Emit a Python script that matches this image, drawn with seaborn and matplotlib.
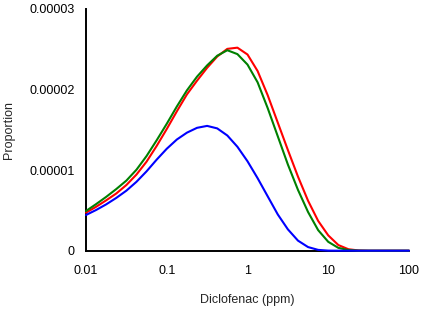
import matplotlib
matplotlib.use("Agg")
import matplotlib.pyplot as plt
import matplotlib.ticker as mticker
import pandas as pd
import seaborn as sns

# diclofenac concentration (ppm), shared by all three curves
conc = [0.01, 0.01334, 0.01778, 0.02371, 0.03162, 0.04217, 0.05623, 0.07499,
        0.1, 0.1334, 0.1778, 0.2371, 0.3162, 0.4217, 0.5623, 0.7499,
        1.0, 1.334, 1.778, 2.371, 3.162, 4.217, 5.623, 7.499,
        10.0, 13.34, 17.78, 23.71, 31.62, 100.0]

# proportion, in units of 1e-5
red = [0.472, 0.545, 0.625, 0.710, 0.815, 0.945, 1.105, 1.300,
       1.510, 1.730, 1.940, 2.110, 2.270, 2.410, 2.505, 2.520,
       2.435, 2.230, 1.930, 1.590, 1.250, 0.920, 0.620, 0.370,
       0.190, 0.070, 0.018, 0.003, 0.0, 0.0]
green = [0.493, 0.578, 0.668, 0.765, 0.870, 1.005, 1.175, 1.370,
         1.575, 1.790, 1.990, 2.160, 2.300, 2.420, 2.488, 2.440,
         2.310, 2.090, 1.770, 1.420, 1.070, 0.755, 0.480, 0.255,
         0.110, 0.035, 0.008, 0.001, 0.0, 0.0]
blue = [0.443, 0.505, 0.575, 0.655, 0.745, 0.855, 0.985, 1.130,
        1.265, 1.380, 1.465, 1.525, 1.549, 1.518, 1.430, 1.290,
        1.110, 0.900, 0.675, 0.450, 0.265, 0.125, 0.045, 0.010,
        0.001, 0.0, 0.0, 0.0, 0.0, 0.0]

series = {"red": red, "green": green, "blue": blue}
colors = {"red": "#ff0000", "green": "#008000", "blue": "#0000ff"}

frames = []
for name, vals in series.items():
    frames.append(pd.DataFrame({
        "conc": conc,
        "prop": [v * 1e-5 for v in vals],
        "curve": name,
    }))
df = pd.concat(frames, ignore_index=True)

sns.set_style("white")
plt.rcParams["font.family"] = ["Liberation Sans", "DejaVu Sans"]

fig = plt.figure(figsize=(4.23, 3.09), dpi=100)
ax = fig.add_axes([0.2033, 0.1887, 0.7636, 0.7822])

sns.lineplot(
    data=df,
    x="conc",
    y="prop",
    hue="curve",
    palette=colors,
    linewidth=1.5,
    legend=False,
    sort=True,
    ax=ax,
)
for line in ax.lines:
    line.set_clip_on(False)
    line.set_zorder(5)
    line.set_solid_joinstyle("round")

ax.set_xscale("log")
ax.set_xlim(0.01, 100)
ax.set_ylim(0, 0.00003)
ax.set_xticks([0.01, 0.1, 1, 10, 100])
ax.set_xticklabels(["0.01", "0.1", "1", "10", "100"])
ax.xaxis.set_minor_locator(mticker.NullLocator())
ax.set_yticks([0, 0.00001, 0.00002, 0.00003])
ax.set_yticklabels(["0", "0.00001", "0.00002", "0.00003"])

for side in ["top", "right"]:
    ax.spines[side].set_visible(False)
for side in ["left", "bottom"]:
    ax.spines[side].set_color("black")
    ax.spines[side].set_linewidth(1.4)

ax.tick_params(axis="both", direction="in", length=4, width=1.2,
               color="black", labelsize=9, labelcolor="black")
ax.tick_params(axis="y", pad=8)
ax.tick_params(axis="x", pad=10)
ax.grid(False)

ax.set_xlabel("Diclofenac (ppm)", fontsize=9, labelpad=12.5)
ax.set_ylabel("Proportion", fontsize=9, labelpad=10.5)

fig.savefig("out.png", dpi=100)
